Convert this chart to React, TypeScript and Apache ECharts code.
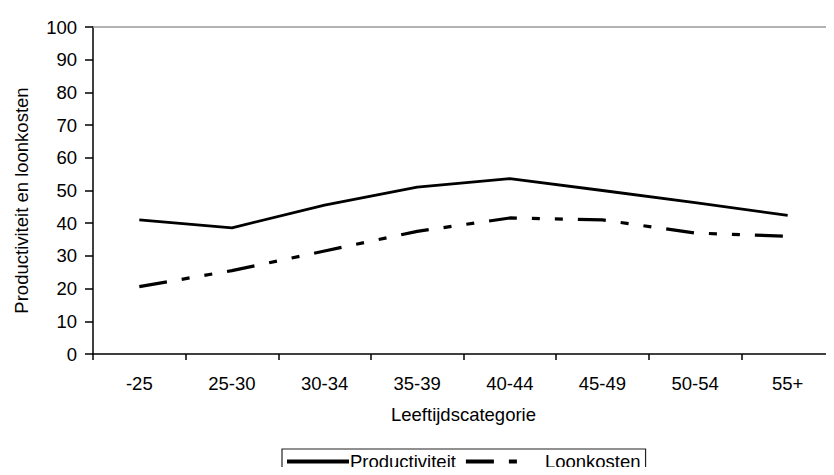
import React, { useEffect, useRef } from "react";
import * as echarts from "echarts";

const categories = ["-25", "25-30", "30-34", "35-39", "40-44", "45-49", "50-54", "55+"];
const productiviteit = [41, 38.6, 45.5, 51, 53.6, 50, 46.3, 42.4];
const loonkosten = [20.6, 25.5, 31.5, 37.5, 41.6, 41, 37, 36];
const yTicks = { min: 0, max: 100, interval: 10 };

const FONT = "'Liberation Sans', Arial, sans-serif";
const FS = 18.5;

export default function App() {
  const ref = useRef<HTMLDivElement>(null);
  useEffect(() => {
    if (!ref.current) return;
    const chart = echarts.init(ref.current, undefined, { renderer: "svg" });
    chart.setOption({
      animation: false,
      backgroundColor: "#ffffff",
      textStyle: { fontFamily: FONT, color: "#000" },
      grid: { left: 93, right: -12, top: 27, bottom: 121, containLabel: false },
      legend: {
        show: true,
        left: 282,
        top: 449,
        orient: "horizontal",
        borderColor: "#222",
        borderWidth: 1.2,
        padding: [3, 5, 6, 3],
        itemGap: 8,
        itemWidth: 62,
        itemHeight: 14,
        itemStyle: { opacity: 0, color: "rgba(0,0,0,0)", borderWidth: 0 },
        lineStyle: { width: 4 },
        textStyle: { fontFamily: FONT, fontSize: FS, color: "#000" },
        data: [
          { name: "Productiviteit", textStyle: { padding: [0, 0, 0, -4] } },
          { name: "Loonkosten", textStyle: { padding: [0, 0, 0, 12] } },
        ],
      },
      xAxis: [
        {
          type: "category",
          data: categories,
          boundaryGap: true,
          position: "bottom",
          axisLine: { lineStyle: { color: "#000", width: 1.5 } },
          axisTick: { show: true, length: 6, lineStyle: { color: "#000", width: 1.5 } },
          axisLabel: { fontFamily: FONT, fontSize: FS, color: "#000", margin: 20 },
          splitLine: { show: false },
          name: "Leeftijdscategorie",
          nameLocation: "middle",
          nameGap: 51,
          nameTextStyle: { fontFamily: FONT, fontSize: FS, color: "#000" },
        },
        {
          type: "category",
          data: categories,
          position: "top",
          axisLine: { lineStyle: { color: "#999", width: 1.5 } },
          axisTick: { show: false },
          axisLabel: { show: false },
          splitLine: { show: false },
        },
      ],
      yAxis: {
        type: "value",
        min: yTicks.min,
        max: yTicks.max,
        interval: yTicks.interval,
        axisLine: { show: true, lineStyle: { color: "#000", width: 1.5 } },
        axisTick: { show: true, length: 8, lineStyle: { color: "#000", width: 1.5 } },
        axisLabel: { fontFamily: FONT, fontSize: FS, color: "#000", margin: 16 },
        splitLine: { show: false },
        name: "Productiviteit en loonkosten",
        nameLocation: "middle",
        nameGap: 62,
        nameRotate: 90,
        nameTextStyle: { fontFamily: FONT, fontSize: FS, color: "#000", padding: [0, 20, 0, 0] },
      },
      series: [
        {
          name: "Productiviteit",
          type: "line",
          data: productiviteit,
          symbol: "none",
          lineStyle: { color: "#000", width: 2.8, type: "solid" },
          itemStyle: { color: "#000" },
        },
        {
          name: "Loonkosten",
          type: "line",
          data: loonkosten,
          symbol: "none",
          lineStyle: { color: "#000", width: 3.2, type: [28, 15, 8, 15, 8, 15] },
          itemStyle: { color: "#000" },
        },
      ],
    });
    return () => chart.dispose();
  }, []);
  return <div ref={ref} style={{ width: 834, height: 475, margin: -8 }} />;
}
